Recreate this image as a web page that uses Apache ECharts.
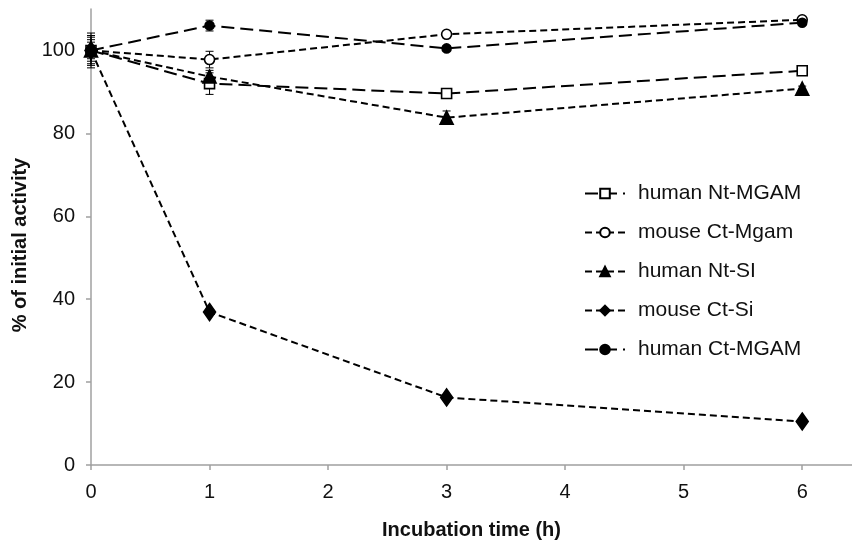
<!DOCTYPE html>
<html>
<head>
<meta charset="utf-8">
<script src="https://cdn.jsdelivr.net/npm/echarts@6/dist/echarts.min.js"></script>
<style>
  html, body { margin: 0; padding: 0; background: #fff; }
  #chart { width: 852px; height: 543px; }
</style>
</head>
<body>
<div id="chart"></div>
<script>
// incubation times (h)
const times = [0, 1, 3, 6];
const xTicks = [0, 1, 2, 3, 4, 5, 6];
const yTicks = [0, 20, 40, 60, 80, 100];

const seriesNames = ['human Nt-MGAM', 'mouse Ct-Mgam', 'human Nt-SI', 'mouse Ct-Si', 'human Ct-MGAM'];

// % of initial activity
const ntMgam = [100, 92.0, 89.6, 95.1];
const ctMgamMouse = [100, 97.8, 103.9, 107.4];
const ntSi = [100, 93.7, 83.8, 90.8];
const ctSi = [100, 36.9, 16.3, 10.5];
const ctMgamHuman = [100, 106.0, 100.5, 106.7];

// error bar half-widths
const ntMgamErr = [4.2, 2.6, 0.6, 0.6];
const ctMgamMouseErr = [3.2, 2.0, 0.6, 0.6];
const ntSiErr = [2.0, 1.5, 1.6, 0.6];
const ctSiErr = [3.6, 0.6, 0.6, 0.6];
const ctMgamHumanErr = [2.6, 1.3, 0.6, 0.6];

const values = [ntMgam, ctMgamMouse, ntSi, ctSi, ctMgamHuman];
const errors = [ntMgamErr, ctMgamMouseErr, ntSiErr, ctSiErr, ctMgamHumanErr];

const longDash = [13, 6];
const shortDash = [7, 4];
const styles = [
  { symbol: 'rect', size: 10, fill: '#fff', dash: longDash },
  { symbol: 'circle', size: 10, fill: '#fff', dash: shortDash },
  { symbol: 'triangle', size: 13, fill: '#000', dash: shortDash },
  { symbol: 'diamond', size: [12, 17], fill: '#000', dash: shortDash },
  { symbol: 'circle', size: 9, fill: '#000', dash: longDash }
];

const chart = echarts.init(document.getElementById('chart'));

const lineSeries = seriesNames.map((name, i) => ({
  name,
  type: 'line',
  data: times.map((t, j) => [t, values[i][j]]),
  symbol: styles[i].symbol,
  symbolSize: styles[i].size,
  showAllSymbol: true,
  z: 3,
  lineStyle: { color: '#000', width: 2, type: styles[i].dash },
  itemStyle: { color: styles[i].fill, borderColor: '#000', borderWidth: 1.6 },
  emphasis: { disabled: true }
}));

const errSeries = seriesNames.map((name, i) => ({
  type: 'custom',
  z: 2,
  silent: true,
  data: times.map((t, j) => [t, values[i][j] - errors[i][j], values[i][j] + errors[i][j]]),
  renderItem: (params, api) => {
    const lo = api.coord([api.value(0), api.value(1)]);
    const hi = api.coord([api.value(0), api.value(2)]);
    const w = 4;
    const st = { stroke: '#000', lineWidth: 1 };
    return {
      type: 'group',
      children: [
        { type: 'line', shape: { x1: lo[0], y1: lo[1], x2: hi[0], y2: hi[1] }, style: st },
        { type: 'line', shape: { x1: lo[0] - w, y1: lo[1], x2: lo[0] + w, y2: lo[1] }, style: st },
        { type: 'line', shape: { x1: hi[0] - w, y1: hi[1], x2: hi[0] + w, y2: hi[1] }, style: st }
      ]
    };
  }
}));

chart.setOption({
  animation: false,
  backgroundColor: '#fff',
  textStyle: { fontFamily: 'Liberation Sans, Arial, sans-serif' },
  grid: { left: 91, right: 0, top: 9, bottom: 78, outerBoundsMode: 'none' },
  legend: {
    data: seriesNames,
    orient: 'vertical',
    left: 579,
    top: 178,
    itemWidth: 40,
    itemHeight: 12,
    itemGap: 18,
    textStyle: { fontSize: 21, color: '#111', padding: [0, 0, 0, 8] }
  },
  xAxis: {
    type: 'value',
    min: 0,
    max: 6.42,
    interval: 1,
    name: 'Incubation time (h)',
    nameLocation: 'middle',
    nameGap: 55,
    nameTextStyle: { fontSize: 20, fontWeight: 'bold', color: '#111' },
    axisLine: { lineStyle: { color: '#a0a0a0', width: 1.5 } },
    axisTick: { show: true, length: 5, customValues: xTicks, lineStyle: { color: '#a0a0a0', width: 1.5 } },
    axisLabel: { fontSize: 20, color: '#111', margin: 17, customValues: xTicks },
    splitLine: { show: false }
  },
  yAxis: {
    type: 'value',
    min: 0,
    max: 110,
    interval: 20,
    name: '% of initial activity',
    nameLocation: 'middle',
    nameGap: 61,
    nameTextStyle: { fontSize: 20, fontWeight: 'bold', color: '#111', padding: [0, 16, 0, 0] },
    axisLine: { show: true, lineStyle: { color: '#a0a0a0', width: 1.5 } },
    axisTick: { show: true, length: 5, customValues: yTicks, lineStyle: { color: '#a0a0a0', width: 1.5 } },
    axisLabel: { fontSize: 20, color: '#111', margin: 16, customValues: yTicks },
    splitLine: { show: false }
  },
  series: [...errSeries, ...lineSeries]
});
</script>
</body>
</html>
